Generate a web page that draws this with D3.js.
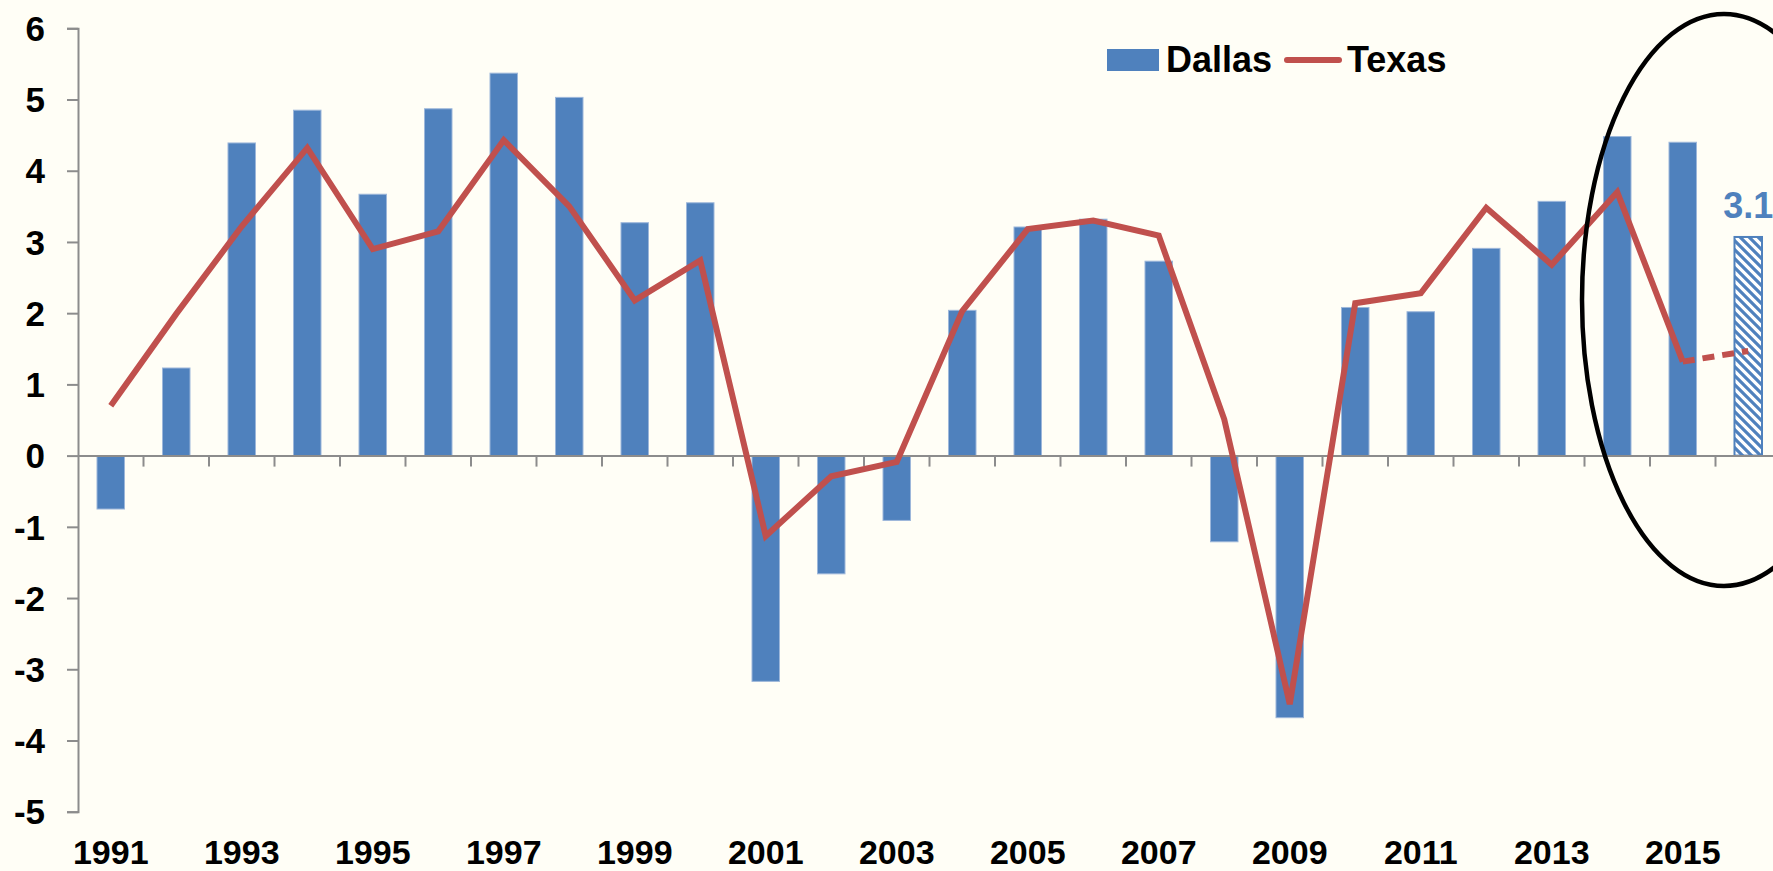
<!DOCTYPE html>
<html>
<head>
<meta charset="utf-8">
<script src="https://cdn.jsdelivr.net/npm/d3@7"></script>
<style>
  html, body { margin: 0; padding: 0; background: #FFFEF6; }
  svg { display: block; }
  text { font-family: "Liberation Sans", Arial, sans-serif; font-weight: bold; }
</style>
</head>
<body>
<svg id="chart" width="1773" height="871"></svg>
<script>
const years = [1991,1992,1993,1994,1995,1996,1997,1998,1999,2000,2001,2002,2003,2004,2005,2006,2007,2008,2009,2010,2011,2012,2013,2014,2015,2016];
const dallas = [-0.75,1.23,4.39,4.85,3.67,4.87,5.37,5.03,3.27,3.55,-3.17,-1.66,-0.91,2.04,3.21,3.32,2.73,-1.21,-3.68,2.08,2.02,2.91,3.57,4.48,4.40,3.07];
const texas = [0.70,1.99,3.22,4.32,2.90,3.15,4.43,3.50,2.18,2.74,-1.13,-0.29,-0.09,2.03,3.18,3.30,3.09,0.51,-3.49,2.14,2.28,3.48,2.68,3.70,1.32,1.47];
const yTicks = [6,5,4,3,2,1,0,-1,-2,-3,-4,-5];
const xTickLabels = ["1991","1993","1995","1997","1999","2001","2003","2005","2007","2009","2011","2013","2015"];
const forecastYear = 2016;
const forecastLabel = "3.1";
const legendLabels = ["Dallas", "Texas"];

const blue = "#4F81BD", red = "#C0504D", axisColor = "#8C8C8C";

const svg = d3.select("#chart");
const W = 1773, H = 871;
svg.append("rect").attr("width", W).attr("height", H).attr("fill", "#FFFEF6");

const x0 = 78, step = 65.5;
const x = d3.scaleBand().domain(years).range([x0, x0 + step * years.length]).paddingInner(0.58).paddingOuter(0.29);
const xb = d3.scaleBand().domain(years).range([x0, x0 + step * years.length]);
const y = d3.scaleLinear().domain([-5, 6]).range([811.7, 28.3]);

// hatch pattern
const defs = svg.append("defs");
const pat = defs.append("pattern").attr("id", "hatch").attr("patternUnits", "userSpaceOnUse")
  .attr("width", 9).attr("height", 9);
pat.append("rect").attr("width", 9).attr("height", 9).attr("fill", "#ffffff");
pat.append("path").attr("d", "M-2,-2 L11,11 M-2,7 L2,11 M7,-2 L11,2")
  .attr("stroke", blue).attr("stroke-width", 3.2);

// bars
svg.append("g").selectAll("rect").data(years).join("rect")
  .attr("x", d => x(d))
  .attr("width", x.bandwidth())
  .attr("y", (d, i) => y(Math.max(0, dallas[i])))
  .attr("height", (d, i) => Math.abs(y(dallas[i]) - y(0)))
  .attr("fill", d => d === forecastYear ? "url(#hatch)" : blue)
  .attr("stroke", d => d === forecastYear ? blue : "#9DB7DA")
  .attr("stroke-width", d => d === forecastYear ? 2 : 1);

// y axis
const yAxis = d3.axisLeft(y).tickValues(yTicks).tickSize(11).tickPadding(22).tickFormat(d => String(d));
const gy = svg.append("g").attr("transform", `translate(${x0},0)`).call(yAxis);
gy.select(".domain").attr("stroke", axisColor).attr("stroke-width", 2);
gy.selectAll(".tick line").attr("stroke", axisColor).attr("stroke-width", 2);
gy.selectAll(".tick text").attr("font-size", 35).attr("font-family", "'Liberation Sans', Arial, sans-serif")
  .attr("font-weight", "bold").attr("fill", "#000").attr("dy", "0.35em");

// x axis at zero
const xAxis = d3.axisBottom(xb).tickSize(0).tickFormat(d => xTickLabels.includes(String(d)) ? String(d) : "");
const gx = svg.append("g").attr("transform", `translate(0,${y(0)})`).call(xAxis);
gx.select(".domain").attr("stroke", axisColor).attr("stroke-width", 2);
gx.selectAll(".tick text").attr("font-size", 34).attr("font-family", "'Liberation Sans', Arial, sans-serif")
  .attr("font-weight", "bold").attr("fill", "#000")
  .attr("y", y(-5) - y(0) + 52.5).attr("dy", 0);
// category boundary ticks
svg.append("g").selectAll("line").data(years.slice(1)).join("line")
  .attr("x1", d => xb(d)).attr("x2", d => xb(d))
  .attr("y1", y(0)).attr("y2", y(0) + 11)
  .attr("stroke", axisColor).attr("stroke-width", 2);

// Texas line
const solidIdx = years.map((d, i) => i).filter(i => years[i] !== forecastYear);
const lineGen = d3.line().x(i => xb(years[i]) + xb.bandwidth() / 2).y(i => y(texas[i]));
svg.append("path").attr("d", lineGen(solidIdx)).attr("fill", "none")
  .attr("stroke", red).attr("stroke-width", 6).attr("stroke-linejoin", "miter").attr("stroke-miterlimit", 4);
const fi = years.indexOf(forecastYear);
svg.append("path").attr("d", lineGen([fi - 1, fi])).attr("fill", "none")
  .attr("stroke", red).attr("stroke-width", 6).attr("stroke-dasharray", "12,8");

// forecast label
svg.append("text").attr("x", xb(forecastYear) + xb.bandwidth() / 2).attr("y", y(dallas[fi]) - 19)
  .attr("text-anchor", "middle").attr("font-size", 36).attr("fill", blue).text(forecastLabel);

// ellipse highlight
svg.append("ellipse").attr("cx", 1724).attr("cy", 300).attr("rx", 142).attr("ry", 286)
  .attr("fill", "none").attr("stroke", "#000").attr("stroke-width", 4.5);

// legend
const lg = svg.append("g");
lg.append("rect").attr("x", 1107).attr("y", 49).attr("width", 52).attr("height", 22).attr("fill", blue);
lg.append("text").attr("x", 1166).attr("y", 72).attr("font-size", 36).attr("fill", "#000").text(legendLabels[0]);
lg.append("line").attr("x1", 1287).attr("x2", 1339).attr("y1", 60).attr("y2", 60)
  .attr("stroke", red).attr("stroke-width", 6).attr("stroke-linecap", "round");
lg.append("text").attr("x", 1347).attr("y", 72).attr("font-size", 36).attr("fill", "#000").text(legendLabels[1]);
</script>
</body>
</html>
